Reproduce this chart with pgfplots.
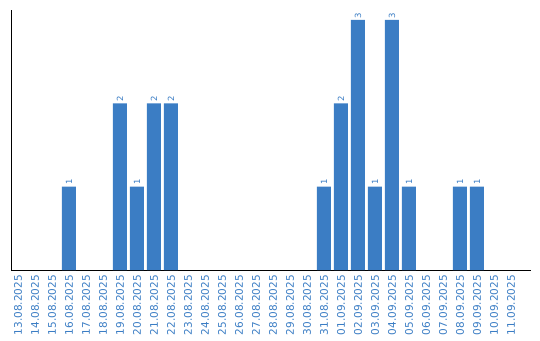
\documentclass[border=0pt]{standalone}
\usepackage{pgfplots}
\pgfplotsset{compat=1.18}
\usepackage{fontspec}
\setmainfont{DejaVu Sans}
\definecolor{barblue}{RGB}{59,125,196}
\begin{document}
\begin{tikzpicture}[x=1pt,y=1pt]
\path[use as bounding box] (0,0) rectangle (540,340);
\begin{axis}[
  at={(11pt,70pt)}, anchor=south west,
  scale only axis, width=520pt, height=260pt,
  xmin=-0.41, xmax=30.18, ymin=0, ymax=3.12,
  axis lines=left, axis line style={-, line width=0.9pt, black},
  ytick=\empty,
  xtick={0,...,29},
  xticklabels={13.08.2025,14.08.2025,15.08.2025,16.08.2025,17.08.2025,18.08.2025,19.08.2025,20.08.2025,21.08.2025,22.08.2025,23.08.2025,24.08.2025,25.08.2025,26.08.2025,27.08.2025,28.08.2025,29.08.2025,30.08.2025,31.08.2025,01.09.2025,02.09.2025,03.09.2025,04.09.2025,05.09.2025,06.09.2025,07.09.2025,08.09.2025,09.09.2025,10.09.2025,11.09.2025},
  xticklabel style={rotate=90, anchor=east, font=\fontsize{10.5}{12}\selectfont, text=barblue, inner sep=0pt, xshift=-5pt},
  major tick length=0pt,
  /pgf/number format/assume math mode=true,
  clip=false,
]
\addplot[ybar, bar width=14pt, fill=barblue, draw=none,
  nodes near coords, point meta=y,
  every node near coord/.style={rotate=90, anchor=west, font=\fontsize{8.5}{10}\selectfont, text=barblue, inner sep=1.5pt}]
coordinates {(3,1) (6,2) (7,1) (8,2) (9,2) (18,1) (19,2) (20,3) (21,1) (22,3) (23,1) (26,1) (27,1)};
\end{axis}
\end{tikzpicture}
\end{document}
